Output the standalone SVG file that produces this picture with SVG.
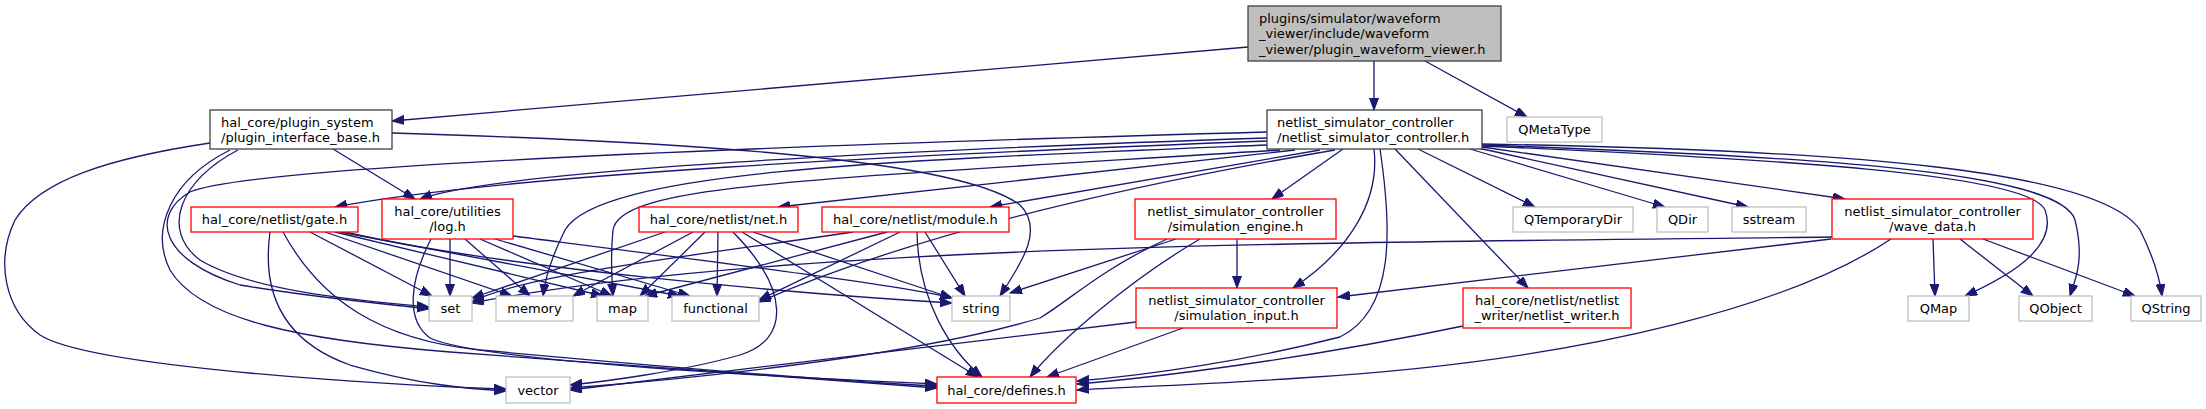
<svg xmlns="http://www.w3.org/2000/svg" width="2206" height="409" viewBox="0 0 2206 409">
<style>
text{font-family:"DejaVu Sans","Liberation Sans",sans-serif;font-size:13px;fill:#000}
.c{text-anchor:middle}
.root{fill:#bfbfbf;stroke:#404040;stroke-width:1.3}
.main{fill:#fff;stroke:#404040;stroke-width:1.3}
.red{fill:#fff;stroke:#ff0000;stroke-width:1.3}
.gray{fill:#fff;stroke:#bfbfbf;stroke-width:1.3}
.e path{fill:none;stroke:#191970;stroke-width:1.3;marker-end:url(#a)}
</style>
<defs>
<marker id="a" markerWidth="13" markerHeight="10" refX="12" refY="4.5" orient="auto" markerUnits="userSpaceOnUse"><path d="M0,0L12,4.5L0,9z" fill="#191970" stroke="#191970" stroke-width="1"/></marker>
</defs>
<rect width="2206" height="409" fill="#fff"/>
<g class="e" id="edges">
<path d="M1248,47L392,121"/>
<path d="M1374,61L1374,110"/>
<path d="M1425,61L1527,117"/>
<path d="M333,149L415,199"/>
<path d="M392,133C700,142 960,160 1020,205C1045,230 1020,265 1000,296"/>
<path d="M210,143C110,158 40,180 15,220C-5,262 5,310 40,335C90,368 400,386 506,389"/>
<path d="M230,150C170,180 150,230 170,270C200,320 300,340 450,352C650,368 850,382 937,388"/>
<path d="M238,150C180,180 160,230 200,260C250,290 350,300 429,307"/>
<path d="M270,232C262,290 280,340 350,365C420,385 470,389 506,391"/>
<path d="M283,232C320,300 380,340 480,350C700,370 850,382 937,386"/>
<path d="M310,232L432,296"/>
<path d="M325,232L512,296"/>
<path d="M335,232L603,296"/>
<path d="M340,232L680,296"/>
<path d="M345,232C500,268 800,294 952,303"/>
<path d="M431,239C410,280 405,320 430,338C480,362 800,378 937,384"/>
<path d="M450,239L450,296"/>
<path d="M465,239L530,296"/>
<path d="M480,239L612,296"/>
<path d="M495,239L690,296"/>
<path d="M513,236C700,260 900,285 952,298"/>
<path d="M665,232L472,298"/>
<path d="M693,232L573,296"/>
<path d="M705,232L640,296"/>
<path d="M718,232L717,296"/>
<path d="M733,232C790,290 790,340 740,355C680,372 600,382 570,385"/>
<path d="M742,232L978,377"/>
<path d="M753,232L952,298"/>
<path d="M853,232C700,255 520,275 472,302"/>
<path d="M887,232L645,296"/>
<path d="M900,232L759,300"/>
<path d="M917,232C918,300 950,350 982,377"/>
<path d="M925,232L965,296"/>
<path d="M1176,239L1010,293"/>
<path d="M1167,239C1100,270 1070,300 1040,318C900,360 650,382 570,388"/>
<path d="M1200,239C1130,280 1060,340 1030,377"/>
<path d="M1237,239L1237,288"/>
<path d="M1136,322L570,390"/>
<path d="M1183,328L1047,377"/>
<path d="M1463,326C1300,360 1150,378 1077,384"/>
<path d="M1832,237C1400,243 800,240 472,303"/>
<path d="M1831,239L1338,297"/>
<path d="M1891,239C1800,300 1600,360 1300,378C1200,385 1100,388 1077,390"/>
<path d="M1933,239L1935,296"/>
<path d="M1960,239L2033,296"/>
<path d="M1983,239L2135,296"/>
<path d="M1267,141C900,155 500,175 335,207"/>
<path d="M1267,138C900,150 500,170 420,199"/>
<path d="M1267,132C800,145 250,165 190,192C150,215 160,260 240,285C330,300 400,305 429,309"/>
<path d="M1267,145C900,160 600,170 565,230C550,260 545,280 543,296"/>
<path d="M1280,150C800,180 620,185 613,230C610,260 612,280 613,296"/>
<path d="M1295,150L778,207"/>
<path d="M1320,150L990,207"/>
<path d="M1335,150C1100,190 900,240 759,302"/>
<path d="M1343,149L1272,199"/>
<path d="M1374,149C1380,200 1350,250 1293,288"/>
<path d="M1380,149C1392,230 1395,310 1340,337C1250,360 1150,375 1077,381"/>
<path d="M1395,149L1528,288"/>
<path d="M1418,149L1535,207"/>
<path d="M1470,149L1665,207"/>
<path d="M1478,148L1748,207"/>
<path d="M1482,147L1845,199"/>
<path d="M1482,146C1800,160 2030,175 2045,210C2060,250 2000,280 1965,296"/>
<path d="M1482,145C1800,156 2060,170 2075,220C2085,260 2075,280 2070,296"/>
<path d="M1482,144C1850,150 2100,170 2140,230C2155,260 2160,280 2162,296"/>
</g>
<g id="root"><rect class="root" x="1248" y="6" width="253" height="55"/><text x="1259" y="22.5">plugins/simulator/waveform</text><text x="1259" y="38">_viewer/include/waveform</text><text x="1259" y="53.5">_viewer/plugin_waveform_viewer.h</text></g>
<g id="pib"><rect class="main" x="210" y="110" width="182" height="39"/><text x="221" y="126.5">hal_core/plugin_system</text><text x="221" y="141.5">/plugin_interface_base.h</text></g>
<g id="nsc"><rect class="main" x="1267" y="110" width="215" height="39"/><text x="1277" y="126.5">netlist_simulator_controller</text><text x="1277" y="141.5">/netlist_simulator_controller.h</text></g>
<g id="qmetatype"><rect class="gray" x="1507" y="117" width="95" height="25"/><text class="c" x="1554.5" y="134">QMetaType</text></g>
<g id="gate"><rect class="red" x="191" y="207" width="167" height="25"/><text class="c" x="274.5" y="224">hal_core/netlist/gate.h</text></g>
<g id="log"><rect class="red" x="382" y="199" width="131" height="40"/><text class="c" x="447.5" y="216">hal_core/utilities</text><text class="c" x="447.5" y="231">/log.h</text></g>
<g id="net"><rect class="red" x="639" y="207" width="159" height="25"/><text class="c" x="718.5" y="224">hal_core/netlist/net.h</text></g>
<g id="module"><rect class="red" x="822" y="207" width="187" height="25"/><text class="c" x="915.5" y="224">hal_core/netlist/module.h</text></g>
<g id="simengine"><rect class="red" x="1135" y="199" width="201" height="40"/><text class="c" x="1235.5" y="216">netlist_simulator_controller</text><text class="c" x="1235.5" y="231">/simulation_engine.h</text></g>
<g id="qtemporarydir"><rect class="gray" x="1513" y="207" width="120" height="25"/><text class="c" x="1573" y="224">QTemporaryDir</text></g>
<g id="qdir"><rect class="gray" x="1657" y="207" width="51" height="25"/><text class="c" x="1682.5" y="224">QDir</text></g>
<g id="sstream"><rect class="gray" x="1732" y="207" width="74" height="25"/><text class="c" x="1769" y="224">sstream</text></g>
<g id="wavedata"><rect class="red" x="1832" y="199" width="201" height="40"/><text class="c" x="1932.5" y="216">netlist_simulator_controller</text><text class="c" x="1932.5" y="231">/wave_data.h</text></g>
<g id="set"><rect class="gray" x="429" y="296" width="43" height="25"/><text class="c" x="450.5" y="313">set</text></g>
<g id="memory"><rect class="gray" x="496" y="296" width="77" height="25"/><text class="c" x="534.5" y="313">memory</text></g>
<g id="map"><rect class="gray" x="597" y="296" width="51" height="25"/><text class="c" x="622.5" y="313">map</text></g>
<g id="functional"><rect class="gray" x="672" y="296" width="87" height="25"/><text class="c" x="715.5" y="313">functional</text></g>
<g id="string"><rect class="gray" x="952" y="296" width="58" height="25"/><text class="c" x="981" y="313">string</text></g>
<g id="siminput"><rect class="red" x="1136" y="288" width="201" height="40"/><text class="c" x="1236.5" y="305">netlist_simulator_controller</text><text class="c" x="1236.5" y="320">/simulation_input.h</text></g>
<g id="netlistwriter"><rect class="red" x="1463" y="288" width="168" height="40"/><text class="c" x="1547" y="305">hal_core/netlist/netlist</text><text class="c" x="1547" y="320">_writer/netlist_writer.h</text></g>
<g id="qmap"><rect class="gray" x="1908" y="296" width="61" height="25"/><text class="c" x="1938.5" y="313">QMap</text></g>
<g id="qobject"><rect class="gray" x="2019" y="296" width="73" height="25"/><text class="c" x="2055.5" y="313">QObject</text></g>
<g id="qstring"><rect class="gray" x="2131" y="296" width="70" height="25"/><text class="c" x="2166" y="313">QString</text></g>
<g id="vector"><rect class="gray" x="506" y="377" width="64" height="26"/><text class="c" x="538" y="394.5">vector</text></g>
<g id="defines"><rect class="red" x="937" y="377" width="139" height="26"/><text class="c" x="1006.5" y="394.5">hal_core/defines.h</text></g>
</svg>
